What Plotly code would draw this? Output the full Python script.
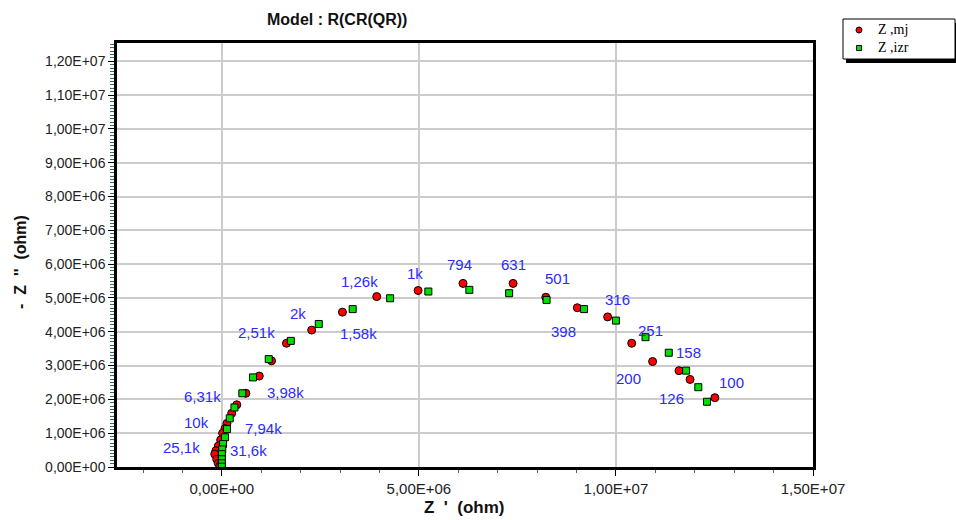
import plotly.graph_objects as go

# ---- data (ohm) ----
mj_re = [12.51e6, 11.88e6, 11.60e6, 10.93e6, 10.40e6, 9.79e6, 9.02e6, 8.22e6, 7.39e6, 6.12e6,
         4.98e6, 3.93e6, 3.06e6, 2.28e6, 1.64e6, 1.26e6, 0.95e6, 0.61e6, 0.38e6, 0.25e6,
         0.13e6, 0.08e6, 0.02e6, -0.03e6, -0.09e6, -0.15e6, -0.18e6, -0.13e6, -0.09e6, -0.05e6]
mj_im = [2.05e6, 2.59e6, 2.85e6, 3.12e6, 3.66e6, 4.44e6, 4.71e6, 5.02e6, 5.43e6, 5.43e6,
         5.22e6, 5.04e6, 4.58e6, 4.05e6, 3.66e6, 3.14e6, 2.69e6, 2.18e6, 1.84e6, 1.59e6,
         1.29e6, 1.14e6, 1.00e6, 0.80e6, 0.62e6, 0.48e6, 0.38e6, 0.23e6, 0.11e6, 0.03e6]

izr_re = [12.31e6, 12.09e6, 11.78e6, 11.34e6, 10.75e6, 10.00e6, 9.19e6, 8.24e6, 7.29e6, 6.28e6,
          5.24e6, 4.27e6, 3.32e6, 2.46e6, 1.75e6, 1.19e6, 0.79e6, 0.52e6, 0.32e6, 0.20e6,
          0.13e6, 0.08e6, 0.03e6, 0.01e6, 0.00e6, 0.00e6, 0.00e6, 0.00e6]
izr_im = [1.93e6, 2.36e6, 2.85e6, 3.38e6, 3.84e6, 4.33e6, 4.67e6, 4.94e6, 5.14e6, 5.24e6,
          5.19e6, 4.99e6, 4.67e6, 4.23e6, 3.73e6, 3.19e6, 2.65e6, 2.18e6, 1.76e6, 1.44e6,
          1.12e6, 0.88e6, 0.68e6, 0.52e6, 0.38e6, 0.23e6, 0.11e6, 0.01e6]

freq_labels = ["100", "126", "200", "158", "251", "316", "398", "501", "631", "794", "1k",
               "1,26k", "2k", "1,58k", "2,51k", "3,98k", "6,31k", "10k", "7,94k", "25,1k", "31,6k"]
freq_label_x = [12.94e6, 11.41e6, 10.31e6, 11.84e6, 10.88e6, 10.03e6, 8.66e6, 8.51e6, 7.39e6, 6.04e6, 4.90e6,
                3.50e6, 1.92e6, 3.48e6, 0.88e6, 1.62e6, -0.49e6, -0.64e6, 1.05e6, -1.02e6, 0.67e6]
freq_label_y = [2.49e6, 2.03e6, 2.62e6, 3.38e6, 4.05e6, 4.94e6, 4.00e6, 5.58e6, 5.98e6, 5.98e6, 5.73e6,
                5.48e6, 4.55e6, 3.96e6, 3.97e6, 2.20e6, 2.10e6, 1.32e6, 1.14e6, 0.58e6, 0.48e6]

x_tick_vals = [0, 5e6, 1e7, 1.5e7]
x_tick_labels = ["0,00E+00", "5,00E+06", "1,00E+07", "1,50E+07"]
y_tick_vals = [0, 1e6, 2e6, 3e6, 4e6, 5e6, 6e6, 7e6, 8e6, 9e6, 1e7, 1.1e7, 1.2e7]
y_tick_labels = ["0,00E+00", "1,00E+06", "2,00E+06", "3,00E+06", "4,00E+06", "5,00E+06",
                 "6,00E+06", "7,00E+06", "8,00E+06", "9,00E+06", "1,00E+07", "1,10E+07", "1,20E+07"]

series_names = ["Z ,mj", "Z ,izr"]
series_colors = ["#ff0000", "#00e000"]

FONT = "Liberation Sans, Arial, sans-serif"
SERIF = "Liberation Serif, Times New Roman, serif"

# plot-area pixel geometry (used for paper-coordinate placement of decorations)
L, R, T, B = 117, 813, 43, 467
W, H = R - L, B - T


def px(xp):
    return (xp - L) / W


def py(yp):
    return (B - yp) / H


fig = go.Figure()
fig.add_trace(go.Scatter(
    x=mj_re, y=mj_im, mode="markers", name=series_names[0], showlegend=False,
    marker=dict(symbol="circle", size=8, color=series_colors[0], line=dict(color="#000000", width=1)),
))
fig.add_trace(go.Scatter(
    x=izr_re, y=izr_im, mode="markers", name=series_names[1], showlegend=False,
    marker=dict(symbol="square", size=7, color=series_colors[1], line=dict(color="#000000", width=1)),
))

for t, xv, yv in zip(freq_labels, freq_label_x, freq_label_y):
    fig.add_annotation(x=xv, y=yv, text=t, showarrow=False, xref="x", yref="y",
                       xanchor="center", yanchor="middle",
                       font=dict(family=FONT, size=15, color="#2a2aff"))

# title and axis titles
fig.add_annotation(text="<b>Model : R(CR(QR))</b>", xref="paper", yref="paper",
                   x=px(337), y=py(20), xanchor="center", yanchor="middle", showarrow=False,
                   font=dict(family=FONT, size=16, color="#111111"))
fig.add_annotation(text="<b>Z  '  (ohm)</b>", xref="paper", yref="paper",
                   x=px(464), y=py(507), xanchor="center", yanchor="middle", showarrow=False,
                   font=dict(family=FONT, size=17, color="#111111"))
fig.add_annotation(text="<b>-  Z  ''  (ohm)</b>", xref="paper", yref="paper",
                   x=px(20), y=py(262), xanchor="center", yanchor="middle", showarrow=False,
                   textangle=-90,
                   font=dict(family=FONT, size=16, color="#111111"))

axis_common = dict(
    showgrid=True, gridcolor="#cccccc", gridwidth=1.5,
    showline=True, linecolor="#000000", linewidth=2.5, mirror=True,
    ticks="outside", ticklen=6, tickcolor="#000000", tickwidth=1,
    zeroline=False,
)

fig.update_xaxes(
    range=[-2.66e6, 1.5e7], tickmode="array", tickvals=x_tick_vals, ticktext=x_tick_labels,
    tickfont=dict(family=FONT, size=15, color="#222222"),
    minor=dict(dtick=1e6, tick0=0, ticks="outside", ticklen=3, tickcolor="#2f6f6f", showgrid=False),
    **axis_common,
)
fig.update_yaxes(
    range=[0, 1.254e7], tickmode="array", tickvals=y_tick_vals, ticktext=y_tick_labels,
    tickfont=dict(family=FONT, size=14, color="#222222"),
    minor=dict(dtick=1e5, tick0=0, ticks="outside", ticklen=4, tickcolor="#2f6f6f", showgrid=False),
    **axis_common,
)

# ---- hand-drawn legend box (with drop shadow) ----
fig.add_shape(type="rect", xref="paper", yref="paper",
              x0=px(846), x1=px(959), y0=py(63), y1=py(23),
              fillcolor="#000000", line=dict(width=0))
fig.add_shape(type="rect", xref="paper", yref="paper",
              x0=px(843), x1=px(955), y0=py(59), y1=py(19),
              fillcolor="#ffffff", line=dict(color="#000000", width=1))
leg_rows = [30, 48]
fig.add_shape(type="circle", xref="paper", yref="paper",
              x0=px(856), x1=px(862), y0=py(leg_rows[0] + 3), y1=py(leg_rows[0] - 3),
              fillcolor=series_colors[0], line=dict(color="#000000", width=1))
fig.add_shape(type="rect", xref="paper", yref="paper",
              x0=px(856.5), x1=px(861.5), y0=py(leg_rows[1] + 2.5), y1=py(leg_rows[1] - 2.5),
              fillcolor=series_colors[1], line=dict(color="#000000", width=1))
fig.add_annotation(text="<br>".join(series_names), xref="paper", yref="paper",
                   x=px(876), y=py((leg_rows[0] + leg_rows[1]) / 2),
                   xanchor="left", yanchor="middle", align="left", showarrow=False,
                   font=dict(family=SERIF, size=14, color="#000000"))

fig.update_layout(
    width=956, height=520,
    margin=dict(l=L, r=956 - R, t=T, b=520 - B),
    paper_bgcolor="#ffffff", plot_bgcolor="#ffffff",
    showlegend=False,
)

fig.write_html("out.html", config={"displayModeBar": False},
               post_script="document.body.style.margin='0';document.body.style.overflow='hidden';")
